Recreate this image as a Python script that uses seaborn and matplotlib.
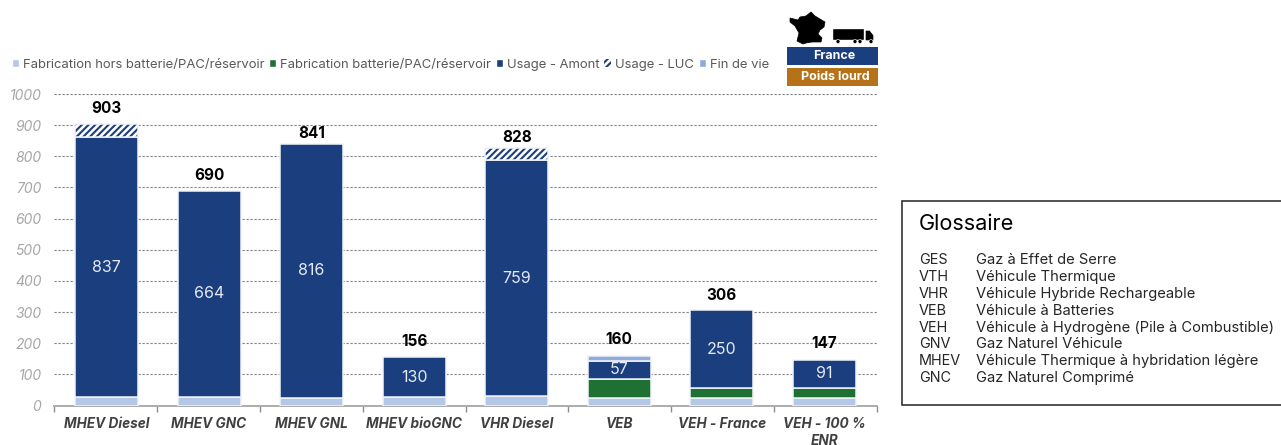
import numpy as np
import pandas as pd
import seaborn as sns
import matplotlib.pyplot as plt
from matplotlib.patches import Patch, Polygon, Rectangle, Circle
from matplotlib.ticker import FixedLocator

# valeurs
categories = ['MHEV Diesel', 'MHEV GNC', 'MHEV GNL', 'MHEV bioGNC', 'VHR Diesel', 'VEB', 'VEH - France', 'VEH - 100 %\nENR']
fabrication = [26, 26, 25, 26, 29, 24, 24, 24]
batterie = [0, 0, 0, 0, 0, 62, 32, 32]
amont = [837, 664, 816, 130, 759, 57, 250, 91]
luc = [40, 0, 0, 0, 40, 0, 0, 0]
fin_de_vie = [0, 0, 0, 0, 0, 17, 0, 0]
totaux = [903, 690, 841, 156, 828, 160, 306, 147]
amont_labels = ['837', '664', '816', '130', '759', '57', '250', '91']
series_noms = ['Fabrication hors batterie/PAC/réservoir', 'Fabrication batterie/PAC/réservoir', 'Usage - Amont', 'Usage - LUC', 'Fin de vie']
glossaire_sigles = ['GES', 'VTH', 'VHR', 'VEB', 'VEH', 'GNV', 'MHEV', 'GNC']
glossaire_textes = ['Gaz à Effet de Serre', 'Véhicule Thermique', 'Véhicule Hybride Rechargeable', 'Véhicule à Batteries',
                    'Véhicule à Hydrogène (Pile à Combustible)', 'Gaz Naturel Véhicule',
                    'Véhicule Thermique à hybridation légère', 'Gaz Naturel Comprimé']

# ecart en points entre le haut de la barre et le total
ecarts = [6, 5.3, 2, 6, 1.5, 6.3, 5.5, 6.3]
couleurs = ['#B4C7E7', '#1E7133', '#1A3E7E', '#FFFFFF', '#8FAADC']
NAVY = '#1A3E7E'
BORD = '#F2F4F8'
LARGEUR = 0.614

sns.set_theme(style='white')
plt.rcParams['font.family'] = ['Inter', 'DejaVu Sans']
plt.rcParams['hatch.linewidth'] = 1.5

W, H = 1281, 445
fig = plt.figure(figsize=(W / 100, H / 100), dpi=100)
ax = fig.add_axes([54 / W, 1 - 405.5 / H, (877 - 54) / W, (405.5 - 94) / H])

# barres empilees
df = pd.DataFrame({'cat': categories, 'fab': fabrication, 'bat': batterie, 'amont': amont, 'luc': luc, 'fin': fin_de_vie})
colonnes = ['fab', 'bat', 'amont', 'luc', 'fin']
bas = df[colonnes].cumsum(axis=1).shift(1, axis=1).fillna(0)
for col, coul in zip(colonnes, couleurs):
    masque = df[col] > 0
    sous = df[masque]
    if col == 'luc':
        sns.barplot(data=sous, x='cat', y=col, order=categories, bottom=bas.loc[masque, col].values, ax=ax,
                    color='white', saturation=1, width=LARGEUR, errorbar=None, edgecolor=NAVY, hatch='/////', linewidth=0, zorder=3)
        sns.barplot(data=sous, x='cat', y=col, order=categories, bottom=bas.loc[masque, col].values, ax=ax,
                    color=BORD, saturation=1, width=LARGEUR, errorbar=None, fill=False, linewidth=1.1, zorder=4)
    else:
        sns.barplot(data=sous, x='cat', y=col, order=categories, bottom=bas.loc[masque, col].values, ax=ax,
                    color=coul, saturation=1, width=LARGEUR, errorbar=None, edgecolor=BORD, linewidth=1.1, zorder=3)

xlim = (-0.512, 7.514)
ax.set_xlim(*xlim)
ax.set_ylim(0, 1000)
ax.set_xlabel('')
ax.set_ylabel('')
ax.set_yticks(range(0, 1001, 100))
ax.grid(axis='y', linestyle=(0, (2, 1.6)), color='#7F7F7F', linewidth=0.8, zorder=0)
ax.set_axisbelow(True)
for cote in ['top', 'left', 'right']:
    ax.spines[cote].set_visible(False)
ax.spines['bottom'].set_color('#A6A6A6')
ax.spines['bottom'].set_linewidth(1.3)
ax.xaxis.set_minor_locator(FixedLocator(np.linspace(xlim[0], xlim[1], 9)))
ax.tick_params(axis='x', which='minor', bottom=True, length=4, width=1, color='#8C8C8C')
ax.tick_params(axis='x', which='major', bottom=False, length=0, pad=8.5)
ax.tick_params(axis='y', left=False, length=0, pad=9)
for t in ax.get_xticklabels():
    t.set_fontsize(9.8)
    t.set_fontweight('bold')
    t.set_fontstyle('italic')
    t.set_color('#404040')
    t.set_linespacing(1.2)
for t in ax.get_yticklabels():
    t.set_fontsize(10)
    t.set_fontstyle('italic')
    t.set_color('#A6A6A6')

# etiquettes
bas_amont = bas['amont']
for i, cat in enumerate(categories):
    ax.text(i, bas_amont[i] + amont[i] / 2, amont_labels[i], ha='center', va='center', color='#E4EAF3', fontsize=11.5, zorder=5)
    ax.annotate(str(totaux[i]), (i, totaux[i]), xytext=(0, ecarts[i]), textcoords='offset points', ha='center', va='bottom',
                fontsize=11, fontweight='bold', color='black', zorder=5)

# calque en pixels pour legende, glossaire et icones
ov = fig.add_axes([0, 0, 1, 1], facecolor='none')
ov.set_xlim(0, W)
ov.set_ylim(H, 0)
ov.axis('off')

handles = [Patch(facecolor=couleurs[0]), Patch(facecolor=couleurs[1]), Patch(facecolor=couleurs[2]),
           Patch(facecolor='white', edgecolor=NAVY, hatch='/////', linewidth=0), Patch(facecolor=couleurs[4])]
ov.legend(handles, series_noms, loc='center left', bbox_to_anchor=(12 / W, 1 - 65 / H), ncol=5, frameon=False,
          fontsize=9.4, labelcolor='#595959', handlelength=0.55, handleheight=0.55, handletextpad=0.3,
          columnspacing=0.35, borderpad=0, borderaxespad=0)

# glossaire
ov.add_patch(Rectangle((902, 201), 400, 204, facecolor='white', edgecolor='#222222', linewidth=1.1))
ov.text(919, 224, 'Glossaire', fontsize=15.6, color='black', va='center')
for i, (s, t) in enumerate(zip(glossaire_sigles, glossaire_textes)):
    ov.text(919, 260 + i * 16.9, s, fontsize=10.4, color='#262626', va='center')
    ov.text(976, 260 + i * 16.9, t, fontsize=10.6, color='#262626', va='center')

# badges
ov.add_patch(Rectangle((787, 47), 91, 18, facecolor=NAVY, edgecolor='none'))
ov.add_patch(Rectangle((787, 68), 91, 18, facecolor='#B57218', edgecolor='none'))
ov.text(834.5, 56, 'France', color='white', fontsize=9, fontweight='bold', ha='center', va='center')
ov.text(835.5, 77, 'Poids lourd', color='white', fontsize=9, fontweight='bold', ha='center', va='center')

# icones France et camion
carte = [(790, 18), (798, 20), (800, 17), (806, 16), (811, 12), (815, 16), (825, 22), (824, 27), (820, 30), (818, 34),
         (822, 38), (821, 42), (812, 42), (806, 43), (803, 44), (797, 41), (799, 33), (795, 26), (790, 22)]
ov.add_patch(Polygon(carte, closed=True, facecolor='black', edgecolor='black', linewidth=0.5))
ov.add_patch(Rectangle((832, 28), 32, 12, facecolor='black'))
ov.add_patch(Polygon([(865, 30), (870, 30), (874, 35), (874, 41), (865, 41)], closed=True, facecolor='black'))
for x in [838, 855, 860, 871]:
    ov.add_patch(Circle((x, 41.5), 2, facecolor='black', edgecolor='white', linewidth=0.4))

fig.savefig('out.png', dpi=100)
